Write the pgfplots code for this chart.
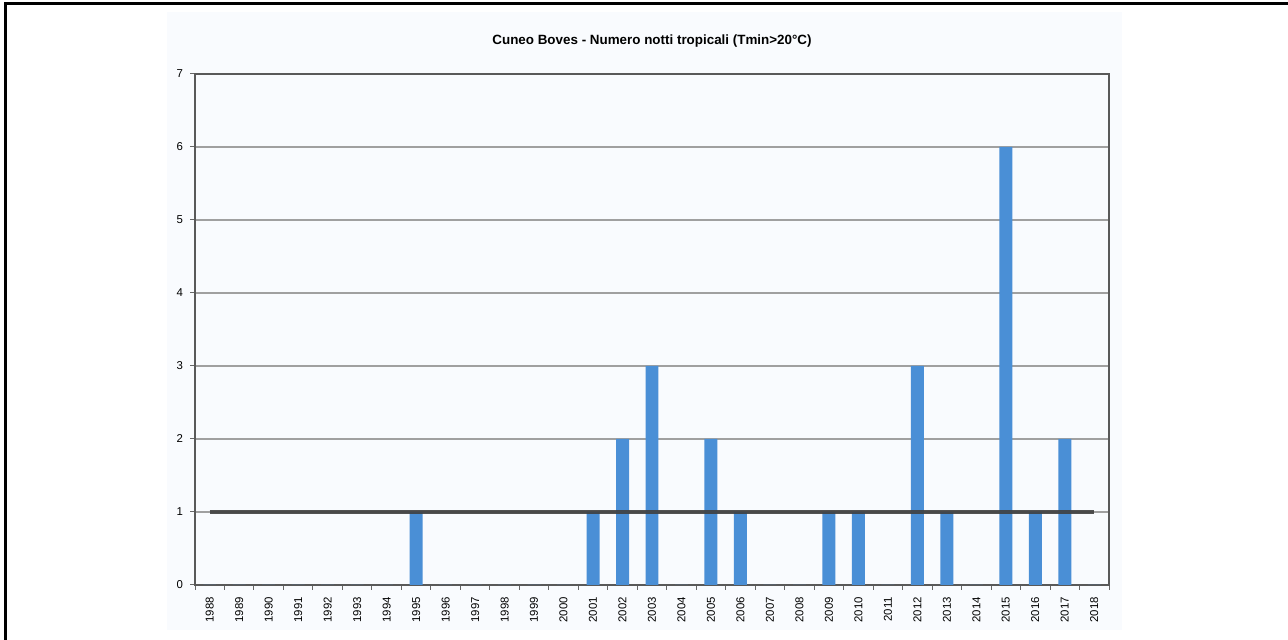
\documentclass[border=0pt]{standalone}
\usepackage{pgfplots}
\pgfplotsset{compat=1.18}
\usepackage{fontspec}
\setmainfont{Liberation Sans}
\definecolor{barblue}{HTML}{4A8FD6}
\definecolor{chartbg}{HTML}{F9FBFE}
\definecolor{gridgray}{HTML}{A0A0A0}
\begin{document}
\begin{tikzpicture}
\useasboundingbox (0,0) rectangle (644pt,320pt);
\fill[chartbg] (83.5pt,5pt) rectangle (561pt,314pt);
\begin{axis}[
  at={(97.5pt,27.5pt)}, anchor=south west,
  scale only axis, width=457pt, height=255.5pt,
  xmin=-0.5, xmax=30.5, ymin=0, ymax=7,
  ytick={0,1,...,7},
  xtick={0,...,30},
  xticklabels={1988,1989,1990,1991,1992,1993,1994,1995,1996,1997,1998,1999,2000,2001,2002,2003,2004,2005,2006,2007,2008,2009,2010,2011,2012,2013,2014,2015,2016,2017,2018},
  x tick label style={rotate=90, anchor=east, font=\fontsize{5.7}{6}\selectfont},
  y tick label style={font=\fontsize{5.7}{6}\selectfont},
  minor xtick={-0.5,0.5,...,30.5},
  major x tick style={draw=none},
  tick align=outside,
  xtick pos=bottom, ytick pos=left,
  minor tick length=2.5pt, major tick length=2.5pt,
  tick style={gray!80!black, line width=0.5pt},
  ymajorgrids, grid style={gridgray, line width=0.6pt},
  axis line style={gray!70!black, line width=0.6pt},
  axis background/.style={fill=chartbg},
  title={\bfseries Cuneo Boves - Numero notti tropicali (Tmin>20°C)},
  title style={font=\fontsize{6.7}{7.5}\selectfont, yshift=4pt},
  /pgf/number format/assume math mode=true,
  ybar, bar width=0.44, bar shift=0pt,
  clip=false,
]
\addplot[fill=barblue, draw=none] coordinates {
(0,0) (1,0) (2,0) (3,0) (4,0) (5,0) (6,0) (7,1) (8,0) (9,0) (10,0) (11,0) (12,0) (13,1) (14,2) (15,3) (16,0) (17,2) (18,1) (19,0) (20,0) (21,1) (22,1) (23,0) (24,3) (25,1) (26,0) (27,6) (28,1) (29,2) (30,0)
};
\addplot[sharp plot, draw=black!75, line width=2pt, opacity=0.9] coordinates {(0,1) (30,1)};
\end{axis}
\draw[black, line width=1.5pt] (2.5pt,0) -- (2.5pt,318.25pt) -- (644pt,318.25pt);
\end{tikzpicture}
\end{document}
